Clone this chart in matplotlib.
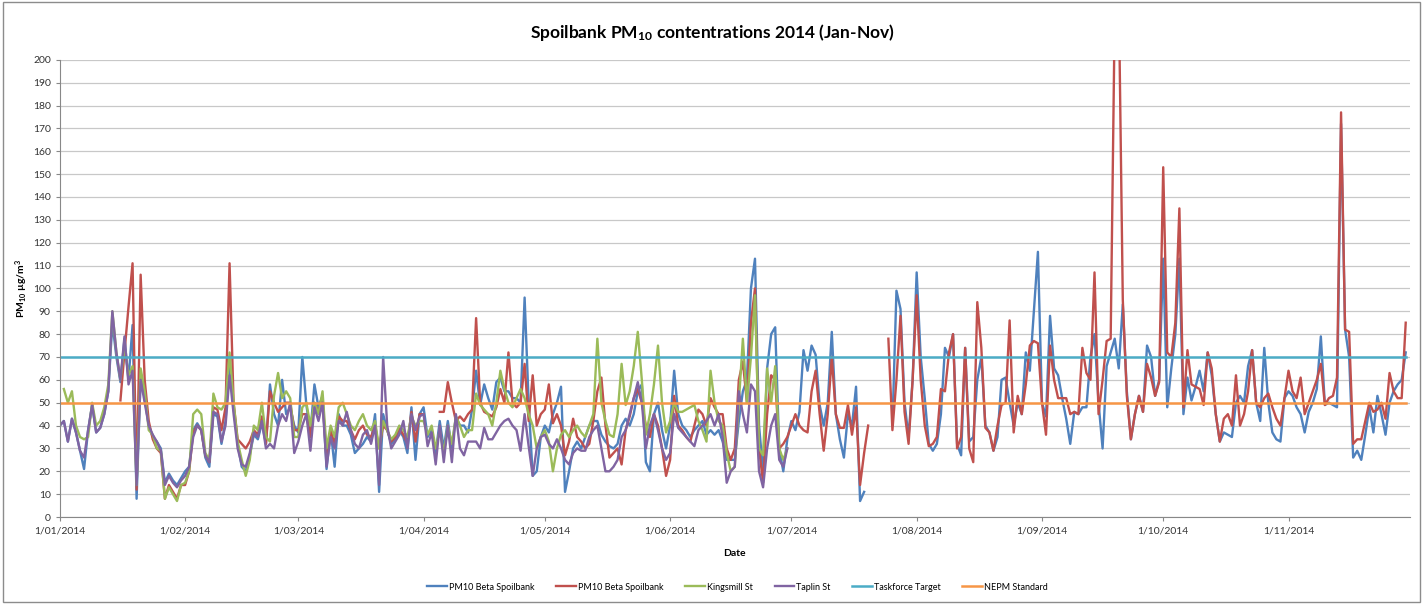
import numpy as np
import pandas as pd
import matplotlib
matplotlib.use('Agg')
import matplotlib.pyplot as plt

plt.rcParams['font.family'] = ['Lato', 'DejaVu Sans']
plt.rcParams['mathtext.default'] = 'regular'

nan = np.nan

# PM10 Beta Spoilbank (blue), daily 1 Jan - 30 Nov 2014
beta_blue = [
    40, 42, 33, 43, 37, 29, 21, 38, 49, 37, 39, 45, 55, 85, 70, 59, 78, 60, 84, 8, 62, 52, 40, 35, 33, 30, 15, 19, 16, 14, 17,  # jan
    20, 22, 38, 41, 38, 26, 22, 45, 44, 32, 42, 68, 48, 32, 22, 20, 27, 36, 34, 41, 32, 58, 45, 40, 60, 45, 48, 40,  # feb
    37, 70, 49, 37, 58, 48, 53, 21, 38, 22, 45, 40, 40, 36, 28, 30, 32, 35, 33, 45, 11, 45, 38, 32, 34, 38, 35, 28, 48, 25, 45,  # mar
    48, 35, 38, 28, 42, 30, 42, 30, 44, 40, 40, 37, 47, 64, 49, 58, 52, 47, 59, 61, 55, 55, 52, 52, 50, 96, 50, 18, 20, 35,  # apr
    40, 37, 45, 50, 57, 11, 20, 30, 33, 30, 35, 40, 42, 42, 36, 33, 31, 30, 32, 40, 43, 40, 45, 55, 58, 24, 20, 45, 50, 38, 30,  # may
    40, 64, 45, 40, 38, 35, 38, 40, 42, 36, 38, 36, 38, 33, 25, 25, 25, 42, 55, 60, 100, 113, 40, 20, 65, 80, 83, 30, 20, 34,  # jun
    42, 38, 46, 73, 64, 75, 71, 49, 40, 50, 81, 45, 34, 26, 45, 40, 57, 7, 11, nan, nan, nan, nan, nan, nan, 40, 99, 91, 50, 35, 60,  # jul
    107, 70, 52, 32, 29, 32, 45, 74, 70, 80, 32, 27, 74, 33, 35, 60, 70, 40, 37, 29, 35, 60, 61, 50, 40, 50, 45, 72, 64, 90, 116,  # aug
    50, 44, 88, 65, 62, 52, 43, 32, 46, 45, 48, 48, 70, 80, 50, 30, 66, 72, 78, 65, 93, 55, 34, 45, 53, 46, 75, 70, 53, 60,  # sep
    113, 48, 65, 80, 113, 45, 61, 51, 57, 64, 55, 72, 62, 45, 33, 37, 36, 35, 50, 53, 50, 66, 73, 50, 42, 74, 50, 37, 34, 33, 52,  # oct
    55, 53, 48, 45, 37, 46, 50, 56, 79, 49, 50, 49, 48, 172, 82, 70, 26, 29, 25, 36, 48, 37, 53, 45, 36, 50, 55, 58, 60, 72,  # nov
]

# PM10 Beta Spoilbank (red)
beta_red = [
    nan, nan, nan, nan, nan, nan, nan, nan, nan, nan, nan, nan, nan, nan, nan,
    51, 72, 92, 111, 12, 106, 60, 42, 34, 30, 28, 8, 14, 11, 8, 14,  # jan
    14, 20, 37, 40, 38, 27, 24, 48, 47, 38, 48, 111, 50, 34, 32, 30, 33, 38, 36, 44, 32, 55, 50, 46, 48, 50, 50, 38,  # feb
    38, 45, 45, 35, 50, 46, 52, 25, 38, 32, 44, 42, 42, 38, 34, 38, 40, 36, 35, 40, 30, 40, 38, 33, 35, 39, 36, 32, 46, 33, 45,  # mar
    45, nan, nan, nan, 46, 46, 59, 50, 42, 44, 42, 45, 47, 87, 50, 46, 45, 44, 48, 56, 50, 72, 50, 48, 50, 67, 42, 62, 40, 45,  # apr
    47, 58, 41, 45, 40, 27, 33, 43, 35, 33, 30, 32, 42, 55, 61, 40, 26, 28, 30, 23, 38, 44, 52, 56, 50, 40, 35, 45, 40, 30, 18,  # may
    25, 53, 40, 38, 35, 33, 40, 47, 45, 40, 52, 48, 45, 45, 30, 25, 30, 60, 68, 50, 85, 100, 30, 15, 45, 62, 60, 30, 32, 35,  # jun
    40, 45, 40, 38, 37, 55, 64, 45, 29, 45, 70, 45, 39, 39, 49, 36, 48, 14, 28, 40, nan, nan, nan, nan, 78, 38, 60, 88, 46, 32, 60,  # jul
    97, 60, 40, 31, 32, 35, 56, 55, 72, 80, 30, 35, 74, 30, 24, 94, 74, 39, 37, 29, 40, 49, 50, 86, 37, 53, 45, 58, 75, 77, 76,  # aug
    50, 36, 75, 60, 52, 52, 52, 45, 46, 45, 74, 63, 60, 107, 45, 60, 77, 78, 220, 230, 95, 53, 34, 45, 53, 46, 67, 61, 53, 59,  # sep
    153, 72, 70, 85, 135, 48, 73, 58, 57, 56, 49, 72, 65, 45, 33, 43, 45, 40, 62, 40, 45, 55, 73, 50, 48, 52, 54, 48, 43, 40, 52,  # oct
    64, 55, 52, 61, 45, 50, 55, 60, 67, 49, 52, 53, 61, 177, 82, 81, 32, 34, 34, 42, 50, 46, 47, 50, 43, 63, 55, 52, 52, 85,  # nov
]

# Kingsmill St (green), 1 Jan - 30 Jun
kingsmill = [
    nan, 56, 50, 55, 40, 35, 34, 35, 50, 40, 42, 48, 58, 90, 72, 60, 75, 62, 66, 14, 65, 55, 38, 36, 30, 29, 8, 13, 10, 7, 14,  # jan
    15, 20, 45, 47, 45, 28, 25, 54, 48, 47, 50, 72, 50, 33, 25, 18, 25, 40, 38, 50, 35, 33, 53, 63, 52, 55, 52, 35,  # feb
    35, 48, 50, 40, 50, 45, 55, 30, 40, 35, 48, 50, 45, 40, 38, 42, 45, 40, 38, 42, 30, 42, 38, 34, 36, 40, 38, 35, 44, 40, 42,  # mar
    42, 36, 40, 30, 38, 28, 40, 32, 44, 40, 35, 38, 38, 54, 49, 47, 45, 40, 50, 64, 56, 50, 48, 52, 56, 52, 45, 40, 30, 35,  # apr
    38, 33, 20, 30, 36, 38, 35, 38, 40, 37, 35, 40, 45, 78, 50, 42, 36, 35, 45, 67, 49, 55, 66, 81, 60, 36, 45, 58, 75, 50, 37,  # may
    42, 50, 46, 46, 47, 48, 49, 42, 38, 33, 64, 50, 42, 40, 28, 20, 22, 50, 78, 50, 70, 97, 30, 27, 65, 50, 66, 30, 25, 30,  # jun
]

# Taplin St (purple), 1 Jan - 30 Jun
taplin = [
    40, 42, 33, 43, 37, 29, 26, 38, 49, 37, 39, 45, 55, 90, 72, 60, 79, 58, 64, 14, 60, 50, 40, 36, 33, 29, 14, 18, 15, 13, 16,  # jan
    18, 22, 35, 40, 38, 27, 24, 46, 45, 33, 40, 62, 45, 30, 23, 22, 28, 37, 35, 42, 30, 32, 30, 40, 45, 42, 50, 28,  # feb
    33, 40, 45, 29, 48, 42, 50, 22, 35, 30, 42, 40, 46, 38, 32, 30, 36, 38, 32, 40, 14, 70, 40, 30, 33, 36, 42, 30, 45, 38, 44,  # mar
    45, 31, 37, 23, 40, 24, 40, 24, 45, 30, 27, 33, 33, 33, 30, 39, 34, 34, 37, 40, 42, 43, 40, 38, 29, 45, 31, 18, 30, 35,  # apr
    36, 32, 30, 34, 30, 25, 23, 28, 30, 29, 29, 35, 38, 40, 30, 20, 20, 22, 25, 35, 38, 45, 52, 59, 50, 30, 40, 45, 38, 30, 25,  # may
    28, 45, 39, 37, 35, 33, 31, 38, 40, 42, 45, 40, 45, 35, 15, 20, 22, 55, 45, 37, 58, 55, 20, 13, 30, 40, 45, 25, 22, 30,  # jun
]

taskforce_target = 70
nepm_standard = 50

dates = pd.date_range('2014-01-01', periods=len(beta_blue), freq='D')
month_ticks = pd.date_range('2014-01-01', '2014-11-01', freq='MS')
tick_labels = ['{0}/{1:02d}/{2}'.format(d.day, d.month, d.year) for d in month_ticks]

fig = plt.figure(figsize=(14.24, 6.04), dpi=100)
ax = fig.add_axes([0.042, 0.144, 0.948, 0.757])

ax.plot(dates, beta_blue, color='#4F81BD', lw=1.7, label='PM10 Beta Spoilbank')
ax.plot(dates, beta_red, color='#C0504D', lw=1.7, label='PM10 Beta Spoilbank')
ax.plot(dates[:len(kingsmill)], kingsmill, color='#9BBB59', lw=1.7, label='Kingsmill St')
ax.plot(dates[:len(taplin)], taplin, color='#8064A2', lw=1.7, label='Taplin St')
ax.plot(dates, [taskforce_target] * len(dates), color='#4BACC6', lw=1.8, label='Taskforce Target')
ax.plot(dates, [nepm_standard] * len(dates), color='#F79646', lw=1.8, label='NEPM Standard')

ax.set_ylim(0, 200)
ax.set_yticks(range(0, 201, 10))
ax.set_xlim(pd.Timestamp('2014-01-01'), pd.Timestamp('2014-12-01'))
ax.set_xticks(month_ticks)
ax.set_xticklabels(tick_labels)
ax.tick_params(axis='both', labelsize=7.5, colors='#333333', length=3, color='#888888')
ax.grid(axis='y', color='#C8C8C8', lw=0.9)
ax.set_axisbelow(True)
for s in ['top', 'right']:
    ax.spines[s].set_visible(False)
for s in ['left', 'bottom']:
    ax.spines[s].set_color('#888888')

ax.set_xlabel('Date', fontsize=7.5, fontweight='bold', labelpad=10)
ax.set_ylabel('PM$_{10}$ µg/m$^3$', fontsize=7.5, fontweight='bold')
ax.yaxis.set_label_coords(-0.022, 0.5)

fig.text(0.5, 0.947, 'Spoilbank PM$_{10}$ contentrations 2014 (Jan-Nov)',
         ha='center', va='center', fontsize=12.5, fontweight='bold')

fig.legend(loc='center', bbox_to_anchor=(0.518, 0.028), ncol=6, frameon=False,
           fontsize=6.5, handlelength=2.2, columnspacing=2.4, handletextpad=0.2)

fig.add_artist(plt.Rectangle((0.002, 0.004), 0.995, 0.992, transform=fig.transFigure,
                             fill=False, edgecolor='#8C8C8C', lw=1))

fig.savefig('out.png', dpi=100)
